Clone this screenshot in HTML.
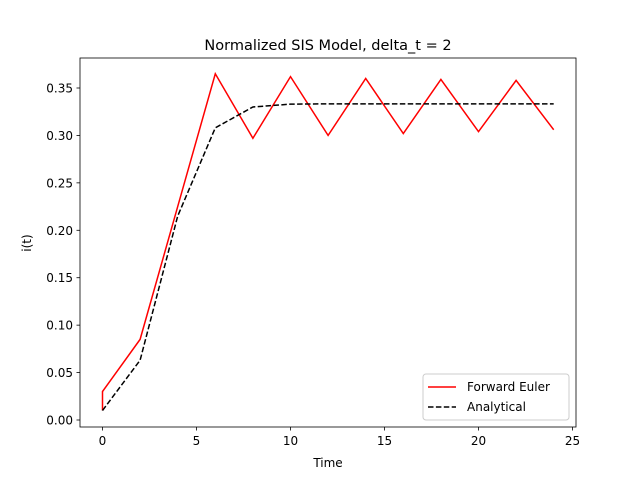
<!DOCTYPE html>
<html><head><meta charset="utf-8"><style>
body{margin:0;background:#fff;}
svg{display:block;font-family:"DejaVu Sans","Liberation Sans",sans-serif;}
</style></head><body>
<svg id="chart" width="640" height="480" viewBox="0 0 640 480">
<rect x="0" y="0" width="640" height="480" fill="#fff"/>
<text x="328" y="50" font-size="14.5" text-anchor="middle">Normalized SIS Model, delta_t = 2</text>
<g id="plot"></g>
<rect x="80" y="58" width="496" height="369" fill="none" stroke="#000" stroke-width="0.8"/>
<text x="328" y="467" font-size="12" text-anchor="middle">Time</text>
<text x="31" y="243" font-size="12" text-anchor="middle" transform="rotate(-90 31 243)">i(t)</text>
<g>
<rect x="423" y="374" width="146" height="46" rx="3" fill="#fff" fill-opacity="0.8" stroke="#ccc"/>
<line x1="428" y1="387" x2="456" y2="387" stroke="red" stroke-width="1.5"/>
<text x="467" y="391" font-size="12">Forward Euler</text>
<line x1="428" y1="407" x2="456" y2="407" stroke="#000" stroke-width="1.5" stroke-dasharray="5.5,2.4"/>
<text x="467" y="411" font-size="12">Analytical</text>
</g>
</svg>
<script>
const eulerT=[0,0,2,4,6,8,10,12,14,16,18,20,22,24];
const eulerI=[0.01,0.03,0.085,0.225,0.365,0.297,0.362,0.300,0.360,0.302,0.359,0.304,0.358,0.306];
const anaT=[0,2,4,6,8,10,12,14,16,18,20,22,24];
const anaI=[0.01,0.063,0.215,0.308,0.33,0.333,0.3333,0.3333,0.3333,0.3333,0.3333,0.3333,0.3333];
const xTicks=[0,5,10,15,20,25];
const yTicks=[0,0.05,0.10,0.15,0.20,0.25,0.30,0.35];
const xS=v=>102.5+v*18.8;
const yS=v=>420+(-v)*(332/0.35);
const g=document.getElementById('plot');
const NS='http://www.w3.org/2000/svg';
function mk(tag,attrs){const e=document.createElementNS(NS,tag);for(const k in attrs)e.setAttribute(k,attrs[k]);g.appendChild(e);return e;}
xTicks.forEach(t=>{
 const l=mk('line',{x1:xS(t),x2:xS(t),y1:427,y2:430.5,stroke:'#000','stroke-width':0.8});
 
 
 const tx=mk('text',{x:xS(t),y:445,'font-size':12,'text-anchor':'middle'});tx.textContent=t;
 
 
});
yTicks.forEach(t=>{
 const l=mk('line',{x1:76.5,x2:80,y1:yS(t),y2:yS(t),stroke:'#000','stroke-width':0.8});
 
 
 const tx=mk('text',{x:73,y:yS(t)+4.5,'font-size':12,'text-anchor':'end'});tx.textContent=t.toFixed(2);
 
 
});
const p1=mk('polyline',{points:eulerT.map((t,i)=>xS(t)+','+yS(eulerI[i])).join(' '),fill:'none',stroke:'red','stroke-width':1.5});


const p2=mk('polyline',{points:anaT.map((t,i)=>xS(t)+','+yS(anaI[i])).join(' '),fill:'none',stroke:'#000','stroke-width':1.5,'stroke-dasharray':'5.5,2.4'});


</script>
</body></html>
